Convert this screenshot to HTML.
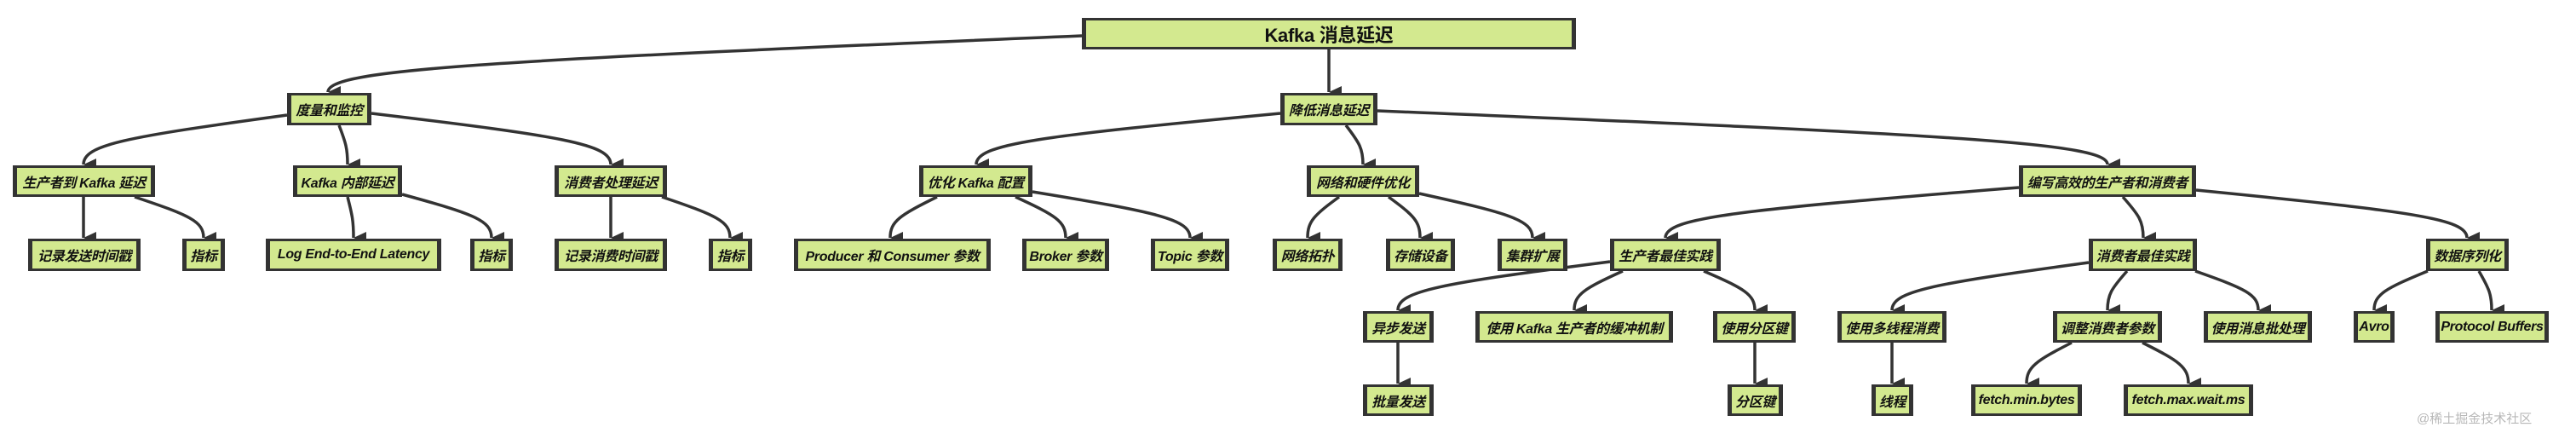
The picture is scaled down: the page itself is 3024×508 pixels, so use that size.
<!DOCTYPE html>
<html><head><meta charset="utf-8">
<style>
html,body{margin:0;padding:0;background:#fff;}
#c{position:relative;width:3024px;height:508px;overflow:hidden;background:#fff;}
svg{position:absolute;left:0;top:0;}
.n{position:absolute;box-sizing:border-box;background:#d3e98f;border:3px solid #333;border-left-width:5px;border-right-width:5px;display:flex;align-items:center;justify-content:center;font-family:"Liberation Sans Narrow","Liberation Sans","Noto Sans CJK SC",sans-serif;font-weight:bold;font-style:italic;font-size:16px;color:#111;white-space:nowrap;letter-spacing:-0.3px;}
.root{font-style:normal;font-size:22px;}
.wm{position:absolute;left:2837px;top:480px;font-family:"Liberation Sans","Noto Sans CJK SC",sans-serif;font-size:15px;color:#b8b8b8;}
</style></head><body>
<div id="c">
<svg id="s" width="3024" height="508" xmlns="http://www.w3.org/2000/svg">
<defs><marker id="ar" markerWidth="14" markerHeight="15" refX="7" refY="15" orient="auto-start-reverse" markerUnits="userSpaceOnUse" viewBox="0 0 14 15"><path d="M0,0 L14,0 L7,15 Z" fill="#333"/></marker></defs>
<g id="g" fill="none" stroke="#333" stroke-width="3.5"></g>
</svg>
<div class="n root" style="left:1270px;top:21px;width:580px;height:37px;">Kafka 消息延迟</div>
<div class="n" style="left:337px;top:109px;width:99px;height:38px;">度量和监控</div>
<div class="n" style="left:1503px;top:109px;width:114px;height:38px;">降低消息延迟</div>

<div class="n" style="left:15px;top:194px;width:167px;height:37px;">生产者到 Kafka 延迟</div>
<div class="n" style="left:344px;top:194px;width:128px;height:37px;">Kafka 内部延迟</div>
<div class="n" style="left:651px;top:194px;width:132px;height:37px;">消费者处理延迟</div>
<div class="n" style="left:1079px;top:194px;width:133px;height:37px;">优化 Kafka 配置</div>
<div class="n" style="left:1534px;top:194px;width:132px;height:37px;">网络和硬件优化</div>
<div class="n" style="left:2370px;top:194px;width:208px;height:37px;">编写高效的生产者和消费者</div>

<div class="n" style="left:33px;top:280px;width:132px;height:38px;">记录发送时间戳</div>
<div class="n" style="left:214px;top:280px;width:50px;height:38px;">指标</div>
<div class="n" style="left:312px;top:280px;width:206px;height:38px;">Log End-to-End Latency</div>
<div class="n" style="left:552px;top:280px;width:50px;height:38px;">指标</div>
<div class="n" style="left:651px;top:280px;width:132px;height:38px;">记录消费时间戳</div>
<div class="n" style="left:832px;top:280px;width:51px;height:38px;">指标</div>
<div class="n" style="left:932px;top:280px;width:231px;height:38px;">Producer 和 Consumer 参数</div>
<div class="n" style="left:1200px;top:280px;width:102px;height:38px;">Broker 参数</div>
<div class="n" style="left:1351px;top:280px;width:92px;height:38px;">Topic 参数</div>
<div class="n" style="left:1494px;top:280px;width:82px;height:38px;">网络拓扑</div>
<div class="n" style="left:1627px;top:280px;width:81px;height:38px;">存储设备</div>
<div class="n" style="left:1758px;top:280px;width:82px;height:38px;">集群扩展</div>
<div class="n" style="left:1890px;top:280px;width:130px;height:38px;">生产者最佳实践</div>
<div class="n" style="left:2452px;top:280px;width:127px;height:38px;">消费者最佳实践</div>
<div class="n" style="left:2848px;top:280px;width:97px;height:38px;">数据序列化</div>

<div class="n" style="left:1600px;top:365px;width:83px;height:37px;">异步发送</div>
<div class="n" style="left:1732px;top:365px;width:232px;height:37px;">使用 Kafka 生产者的缓冲机制</div>
<div class="n" style="left:2011px;top:365px;width:97px;height:37px;">使用分区键</div>
<div class="n" style="left:2157px;top:365px;width:128px;height:37px;">使用多线程消费</div>
<div class="n" style="left:2410px;top:365px;width:128px;height:37px;">调整消费者参数</div>
<div class="n" style="left:2587px;top:365px;width:127px;height:37px;">使用消息批处理</div>
<div class="n" style="left:2763px;top:365px;width:48px;height:37px;">Avro</div>
<div class="n" style="left:2859px;top:365px;width:133px;height:37px;">Protocol Buffers</div>

<div class="n" style="left:1600px;top:451px;width:83px;height:37px;">批量发送</div>
<div class="n" style="left:2028px;top:451px;width:65px;height:37px;">分区键</div>
<div class="n" style="left:2197px;top:451px;width:49px;height:37px;">线程</div>
<div class="n" style="left:2314px;top:451px;width:130px;height:37px;">fetch.min.bytes</div>
<div class="n" style="left:2493px;top:451px;width:152px;height:37px;">fetch.max.wait.ms</div>
<div class="wm">@稀土掘金技术社区</div>
</div>
<script>
var E=[
[1270,42,385,109],[1560,58,1560,109],
[337,135,98,194],[398,147,408,194],[436,133,717,194],
[98,231,98,280],[158,231,239,280],
[408,231,415,280],[472,228,577,280],
[717,231,717,280],[777,231,857,280],
[1503,133,1146,194],[1580,147,1600,194],[1617,130,2474,194],
[1100,231,1045,280],[1192,231,1251,280],[1212,225,1397,280],
[1572,231,1535,280],[1630,231,1667,280],[1666,227,1799,280],
[2370,220,1955,280],[2492,231,2516,280],[2578,223,2896,280],
[1890,307,1641,365],[1905,318,1848,365],[2000,318,2060,365],
[2452,308,2221,365],[2497,318,2474,365],[2577,318,2651,365],
[2850,318,2787,365],[2910,318,2925,365],
[1641,402,1641,451],[2060,402,2060,451],[2221,402,2221,451],[2432,402,2379,451],[2515,402,2569,451]
];
var g=document.getElementById('g'),h='';
E.forEach(function(e){var sx=e[0],sy=e[1],ex=e[2],ey=e[3]-1;
var d;
if(sx===ex){d='M'+sx+','+sy+' L'+ex+','+ey;}
else{var c1x=sx+(ex-sx)*0.8,c1y=sy+(ey-sy)*0.45,c2x=ex,c2y=ey-(ey-sy)*0.4;
d='M'+sx+','+sy+' C'+c1x+','+c1y+' '+c2x+','+c2y+' '+ex+','+ey;}
h+='<path d="'+d+'" marker-end="url(#ar)"/>';});
g.innerHTML=h;
</script>
</body></html>
